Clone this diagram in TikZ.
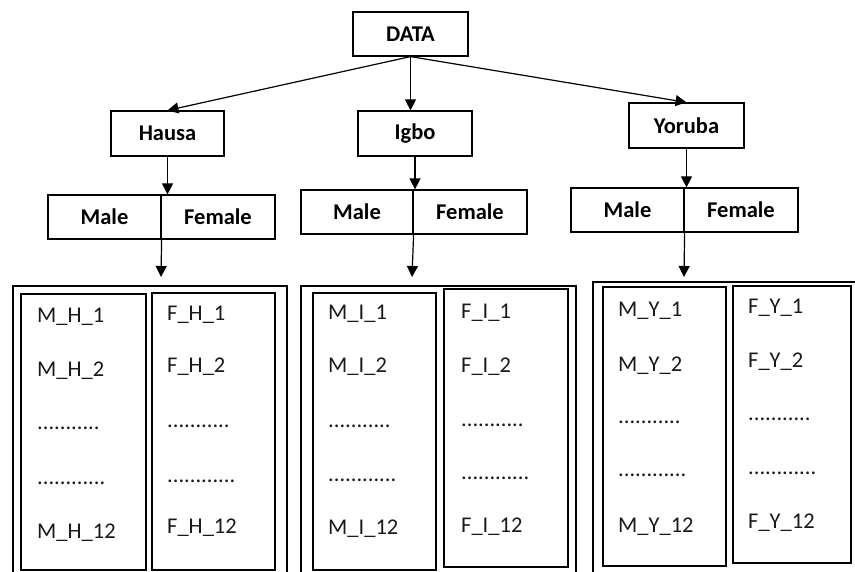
\documentclass[tikz,border=0pt]{standalone}
\usepackage{fontspec}
\setmainfont{Carlito}
\usetikzlibrary{arrows.meta}
\begin{document}
\begin{tikzpicture}[x=1pt,y=-1pt,
  box/.style={draw, line width=1.2pt, inner sep=0pt, font=\fontsize{22.5}{26}\selectfont\bfseries},
  arr/.style={line width=1.2pt, -{Triangle[length=11pt,width=11pt]}},
  item/.style={anchor=base west, inner sep=0pt, font=\fontsize{22.5}{26}\selectfont, text=black!90},
  frame/.style={draw, line width=1.2pt}]
\useasboundingbox (0,0) rectangle (855,572);
\clip (0,0) rectangle (855,572);
% top level
\node[box, minimum width=115pt, minimum height=44pt] (data) at (410.5,34) {DATA};
\node[box, minimum width=113pt, minimum height=45pt] (hau) at (167.5,133.5) {Hausa};
\node[box, minimum width=114pt, minimum height=45pt] (igb) at (415,133.5) {Igbo};
\node[box, minimum width=115pt, minimum height=45pt] (yor) at (686.5,125.5) {Yoruba};
% male / female
\node[box, minimum width=113pt, minimum height=44pt] (hauM) at (104.5,217) {Male};
\node[box, minimum width=114pt, minimum height=44pt] (hauF) at (218,217) {Female};
\node[box, minimum width=112pt, minimum height=44pt] (igbM) at (357,212) {Male};
\node[box, minimum width=114pt, minimum height=44pt] (igbF) at (470,212) {Female};
\node[box, minimum width=113pt, minimum height=44pt] (yorM) at (627.5,210) {Male};
\node[box, minimum width=114pt, minimum height=44pt] (yorF) at (741,210) {Female};
% arrows
\draw[arr] (data.south) -- (hau.north);
\draw[arr] (data.south) -- (data.south |- igb.north);
\draw[arr] (data.south) -- (yor.north);
\draw[arr] (hau.south) -- (hau.south |- hauM.north);
\draw[arr] (igb.south) -- (igb.south |- igbM.north);
\draw[arr] (yor.south) -- (yor.south |- yorM.north);
\coordinate (hauIn) at (161,277);
\coordinate (igbIn) at (412,277);
\coordinate (yorIn) at (684,277);
\draw[arr] (hauM.south east) -- (hauIn);
\draw[arr] (igbM.south east) -- (igbIn);
\draw[arr] (yorM.south east) -- (yorIn);
% list frames
\draw[frame] (13,286) rectangle (287,600);
\draw[frame] (21,294) rectangle (146,570);
\draw[frame] (152,293) rectangle (275,570);
\draw[frame] (301,286) rectangle (576,600);
\draw[frame] (313,293) rectangle (436,570);
\draw[frame] (444,289) rectangle (568,567);
\draw[frame] (593,282) rectangle (880,600);
\draw[frame] (603,287) rectangle (726,566);
\draw[frame] (733,286) rectangle (851,563);
% Hausa lists
\node[item] (mh1) at (37,323) {M\_H\_1};
\node[item] (mh2) at (37,377) {M\_H\_2};
\node[item] (mh3) at (37,429) {...........};
\node[item] (mh4) at (37,484) {............};
\node[item] (mh5) at (37,538) {M\_H\_12};
\node[item] (fh1) at (167,321) {F\_H\_1};
\node[item] (fh2) at (167,373) {F\_H\_2};
\node[item] (fh3) at (167,428) {...........};
\node[item] (fh4) at (167,482) {............};
\node[item] (fh5) at (167,533) {F\_H\_12};
% Igbo lists
\node[item] (mi1) at (328,320) {M\_I\_1};
\node[item] (mi2) at (328,373) {M\_I\_2};
\node[item] (mi3) at (328,427) {...........};
\node[item] (mi4) at (328,481) {............};
\node[item] (mi5) at (328,534) {M\_I\_12};
\node[item] (fi1) at (461,319) {F\_I\_1};
\node[item] (fi2) at (461,373) {F\_I\_2};
\node[item] (fi3) at (461,426) {...........};
\node[item] (fi4) at (461,479) {............};
\node[item] (fi5) at (461,532) {F\_I\_12};
% Yoruba lists
\node[item] (my1) at (618,317) {M\_Y\_1};
\node[item] (my2) at (618,372) {M\_Y\_2};
\node[item] (my3) at (618,424) {...........};
\node[item] (my4) at (618,476) {............};
\node[item] (my5) at (618,532) {M\_Y\_12};
\node[item] (fy1) at (748,314) {F\_Y\_1};
\node[item] (fy2) at (748,367) {F\_Y\_2};
\node[item] (fy3) at (748,420) {...........};
\node[item] (fy4) at (748,474) {............};
\node[item] (fy5) at (748,528) {F\_Y\_12};
\end{tikzpicture}
\end{document}
